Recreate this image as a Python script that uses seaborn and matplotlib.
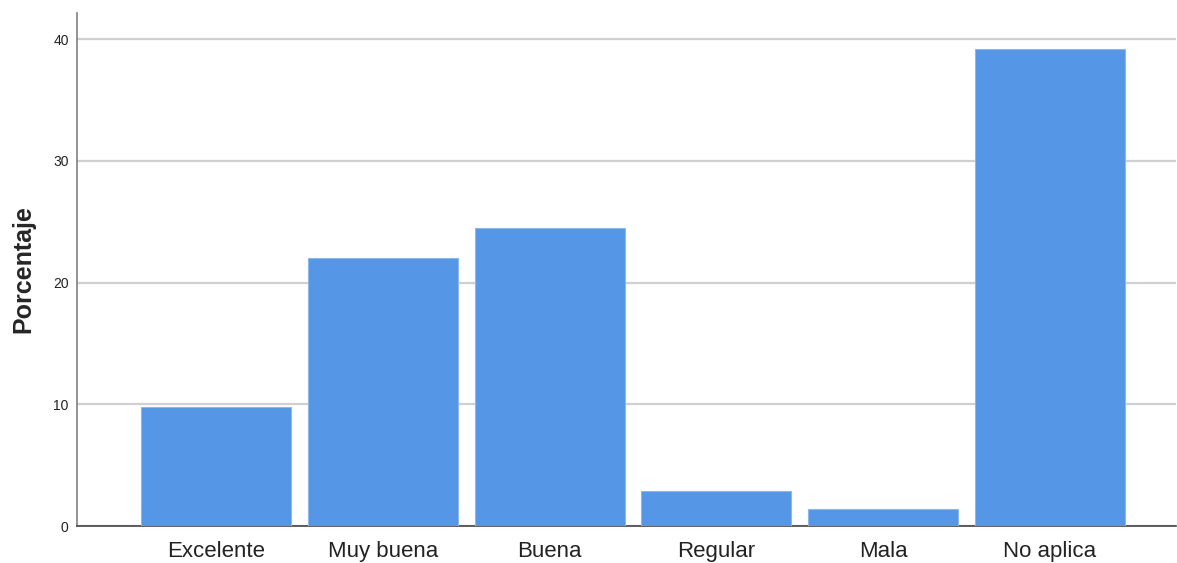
import pandas as pd
import matplotlib
matplotlib.use("Agg")
import matplotlib.pyplot as plt
import seaborn as sns

# Data
categorias = ["Excelente", "Muy buena", "Buena", "Regular", "Mala", "No aplica"]
porcentajes = [9.8, 22.0, 24.5, 2.9, 1.4, 39.2]
y_ticks = [0, 10, 20, 30, 40]

df = pd.DataFrame({"Categoria": categorias, "Porcentaje": porcentajes})

sns.set_style("white")
plt.rcParams["font.family"] = ["Liberation Sans", "DejaVu Sans"]

fig = plt.figure(figsize=(11.77, 5.63), dpi=100)
ax = fig.add_axes([77 / 1177, 1 - 526 / 563, 1099 / 1177, 513 / 563])

sns.barplot(
    data=df,
    x="Categoria",
    y="Porcentaje",
    color="#5596E6",
    saturation=1,
    width=0.9,
    edgecolor="#8DB8EE",
    linewidth=0.8,
    ax=ax,
    zorder=3
)

# Axes look
ax.set_xlim(-0.833, 5.755)
ax.set_ylim(0, 42.15)
ax.set_yticks(y_ticks)
ax.set_xticks(range(len(categorias)))
ax.set_xticklabels(categorias, va="baseline")
ax.yaxis.grid(True, color="#D0D0D0", linewidth=1.6, zorder=0)
ax.set_axisbelow(True)

for side in ["top", "right"]:
    ax.spines[side].set_visible(False)
ax.spines["left"].set_color("#808080")
ax.spines["left"].set_linewidth(1.2)
ax.spines["bottom"].set_color("#444444")
ax.spines["bottom"].set_linewidth(1.2)

ax.tick_params(axis="y", length=0, pad=6, labelsize=10, colors="#222222")
ax.tick_params(axis="x", length=0, pad=22, labelsize=16, colors="#222222")

ax.set_xlabel("")
ax.set_ylabel("Porcentaje", fontsize=18, fontweight="bold", labelpad=13)

fig.savefig("out.png", dpi=100)
